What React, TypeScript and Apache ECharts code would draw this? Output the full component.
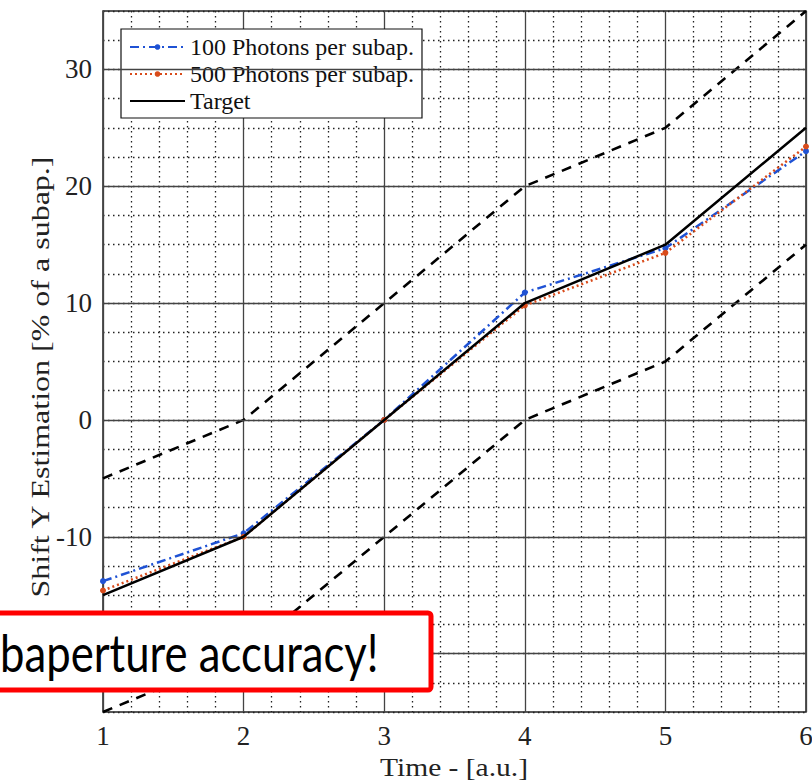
import React, { useEffect, useRef } from "react";
import * as echarts from "echarts";

const times = [1, 2, 3, 4, 5, 6];
const photons100 = [-13.8, -9.7, 0, 10.9, 14.7, 23.0];
const photons500 = [-14.6, -10.0, 0, 9.8, 14.3, 23.4];
const target = [-15, -10, 0, 10, 15, 25];
const upperBound = [-5, 0, 10, 20, 25, 35];
const lowerBound = [-25, -20, -10, 0, 5, 15];
const yMajorTicks = [-20, -10, 0, 10, 20, 30];

const seriesNames = ["100 Photons per subap.", "500 Photons per subap.", "Target"];
const xTitle = "Time - [a.u.]";
const yTitle = "Shift Y Estimation [% of a subap.]";
const overlayText = "baperture accuracy!";

const SERIF = "'Liberation Serif', 'Times New Roman', serif";
const pairs = (ys: number[]) => times.map((t, i) => [t, ys[i]]);

export default function App() {
  const ref = useRef<HTMLDivElement>(null);
  useEffect(() => {
    if (!ref.current) return;
    const chart = echarts.init(ref.current, null, { renderer: "svg" });
    const dotted = { color: "#222", width: 1.3, type: [1.5, 3.5] as number[] };
    chart.setOption({
      animation: false,
      backgroundColor: "#fff",
      grid: {
        left: 103,
        right: 6,
        top: 11,
        bottom: 70,
        show: true,
        borderColor: "#222",
        borderWidth: 1.5,
        outerBoundsMode: "none",
      },
      legend: {
        data: [
          seriesNames[0],
          seriesNames[1],
          { name: seriesNames[2], itemStyle: { color: "transparent", borderWidth: 0 } },
        ],
        orient: "vertical",
        left: 121,
        top: 29,
        padding: [6, 8, 5, 8],
        itemGap: 3,
        itemWidth: 55,
        itemHeight: 7,
        backgroundColor: "#fff",
        borderColor: "#111",
        borderWidth: 1.2,
        borderRadius: 0,
        textStyle: { fontFamily: SERIF, fontSize: 24, color: "#111", lineHeight: 21 },
      },
      xAxis: {
        type: "value",
        min: 1,
        max: 6,
        interval: 1,
        axisLine: { show: false },
        axisTick: { show: false },
        axisLabel: { fontFamily: SERIF, fontSize: 27, color: "#222", margin: 10 },
        splitLine: { show: true, lineStyle: { color: "#444", width: 1.3 } },
        minorTick: { show: false, splitNumber: 5 },
        minorSplitLine: { show: true, lineStyle: dotted },
      },
      yAxis: {
        type: "value",
        min: -25,
        max: 35,
        interval: 2.5,
        axisLine: { show: false },
        axisTick: { show: false },
        axisLabel: {
          interval: 0,
          fontFamily: SERIF,
          fontSize: 27,
          color: "#222",
          margin: 11,
          formatter: (v: number) => (yMajorTicks.includes(v) ? String(v) : ""),
        },
        splitLine: { show: true, lineStyle: dotted },
      },
      series: [
        {
          name: "majorGrid",
          type: "line",
          data: [],
          z: 1,
          markLine: {
            silent: true,
            symbol: "none",
            label: { show: false },
            lineStyle: { color: "#444", width: 1.3, type: "solid" },
            data: yMajorTicks.map((v) => ({ yAxis: v })),
          },
        },
        {
          name: "upper",
          type: "line",
          data: pairs(upperBound),
          showSymbol: false,
          z: 3,
          lineStyle: { color: "#000", width: 2.6, type: [10, 8] },
        },
        {
          name: "lower",
          type: "line",
          data: pairs(lowerBound),
          showSymbol: false,
          z: 3,
          lineStyle: { color: "#000", width: 2.6, type: [10, 8] },
        },
        {
          name: seriesNames[0],
          type: "line",
          data: pairs(photons100),
          symbol: "circle",
          symbolSize: 6,
          z: 4,
          itemStyle: { color: "#1f52d4" },
          lineStyle: { color: "#1f52d4", width: 2.5, type: [9, 4, 2, 4] },
        },
        {
          name: seriesNames[1],
          type: "line",
          data: pairs(photons500),
          symbol: "circle",
          symbolSize: 6,
          z: 5,
          itemStyle: { color: "#d94b1a" },
          lineStyle: { color: "#d94b1a", width: 2.5, type: [2, 3] },
        },
        {
          name: seriesNames[2],
          type: "line",
          data: pairs(target),
          showSymbol: false,
          symbol: "none",
          z: 6,
          itemStyle: { color: "#000" },
          lineStyle: { color: "#000", width: 2.5 },
        },
      ],
      graphic: [
        {
          type: "text",
          x: 454,
          y: 768,
          scaleX: 1.18,
          style: {
            text: xTitle,
            fontFamily: SERIF,
            fontSize: 25,
            fill: "#222",
            textAlign: "center",
            textVerticalAlign: "middle",
          },
        },
        {
          type: "text",
          x: 40,
          y: 377,
          rotation: Math.PI / 2,
          scaleX: 1.28,
          style: {
            text: yTitle,
            fontFamily: SERIF,
            fontSize: 25,
            fill: "#222",
            textAlign: "center",
            textVerticalAlign: "middle",
          },
        },
        {
          type: "rect",
          z: 100,
          shape: { x: -10, y: 613, width: 441, height: 77, r: 3 },
          style: { fill: "#fff", stroke: "#ff0000", lineWidth: 5 },
        },
        {
          type: "text",
          z: 101,
          x: 0,
          y: 652,
          scaleX: 0.84,
          style: {
            text: overlayText,
            fontFamily: "Lato, 'Open Sans', sans-serif",
            fontSize: 52,
            fill: "#000",
            textAlign: "left",
            textVerticalAlign: "middle",
          },
        },
      ],
    });
    return () => chart.dispose();
  }, []);
  return (
    <div
      ref={ref}
      style={{ position: "absolute", left: 0, top: 0, width: 812, height: 782 }}
    />
  );
}
